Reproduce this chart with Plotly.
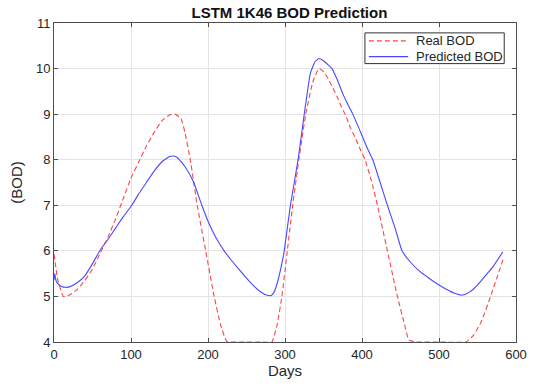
import plotly.graph_objects as go

# Real BOD (days, value)
real_days = [0, 5, 12, 15, 20, 30, 40, 50, 60, 70, 80, 90, 100, 110, 120, 130, 140, 150, 157,
             165, 170, 177, 186, 197, 208, 216, 224, 232, 250, 270, 283, 290, 296, 303, 310,
             318, 327, 336, 344, 350, 356, 362, 368, 373, 378, 385, 392, 398, 404, 412, 420,
             433, 446, 455, 461, 470, 500, 535, 545, 555, 567, 575, 584]
real_bod = [5.93, 5.35, 5.0, 5.0, 5.03, 5.15, 5.35, 5.6, 5.95, 6.3, 6.7, 7.15, 7.6, 7.95, 8.3, 8.6, 8.85, 8.98, 9.0,
            8.9, 8.6, 8.0, 7.0, 6.0, 5.0, 4.4, 4.02, 4.0, 4.0, 4.0, 4.0, 4.4, 5.0, 6.0, 7.0,
            8.0, 9.0, 9.7, 10.0, 9.93, 9.78, 9.58, 9.37, 9.17, 9.0, 8.7, 8.45, 8.22, 8.0, 7.55, 7.0,
            6.0, 5.0, 4.4, 4.04, 4.0, 4.0, 4.0, 4.15, 4.45, 5.0, 5.4, 5.85]

# Predicted BOD (days, value)
pred_days = [0, 1, 2.5, 5, 10, 15, 20, 30, 40, 50, 60, 70, 80, 90, 101, 110, 120, 130, 140, 150,
             155, 160, 170, 181, 192, 200, 210, 221, 230, 240, 250, 260, 270, 276, 282, 286, 290,
             295, 299, 307, 317, 325, 333, 339, 344, 350, 356, 361, 368, 375, 382, 388, 394, 400,
             407, 414, 433, 443, 452, 463, 475, 487, 499, 510, 520, 531, 540, 550, 560,
             570, 583]
pred_bod = [5.36, 5.5, 5.35, 5.28, 5.22, 5.2, 5.21, 5.3, 5.45, 5.72, 6.02, 6.25, 6.5, 6.75, 7.0, 7.25, 7.5, 7.75, 7.95, 8.07,
            8.08, 8.05, 7.85, 7.52, 7.0, 6.65, 6.3, 6.0, 5.8, 5.6, 5.4, 5.22, 5.08, 5.03, 5.02, 5.1, 5.3,
            5.65, 6.0, 7.0, 8.0, 9.0, 9.9, 10.15, 10.22, 10.17, 10.08, 10.0, 9.75, 9.45, 9.2, 9.0, 8.77, 8.53,
            8.25, 8.0, 7.0, 6.5, 6.0, 5.75, 5.55, 5.4, 5.26, 5.15, 5.07, 5.03, 5.1, 5.25, 5.45,
            5.65, 5.98]

x_ticks = [0, 100, 200, 300, 400, 500, 600]
y_ticks = [4, 5, 6, 7, 8, 9, 10, 11]
series_names = ["Real BOD", "Predicted BOD"]
series_colors = ["#ff4545", "#4848ff"]
series_dash = ["5px,3px", "solid"]

FONT = "Liberation Sans, Arial, sans-serif"
AX = "#4d4d4d"

fig = go.Figure()
fig.add_trace(go.Scatter(x=real_days, y=real_bod, mode="lines", name=series_names[0],
                         line=dict(color=series_colors[0], width=1.1, dash=series_dash[0],
                                   shape="spline", smoothing=0.4)))
fig.add_trace(go.Scatter(x=pred_days, y=pred_bod, mode="lines", name=series_names[1],
                         line=dict(color=series_colors[1], width=1.1, dash=series_dash[1],
                                   shape="spline", smoothing=0.4)))

axis_common = dict(showline=True, linecolor=AX, linewidth=1, mirror="ticks", ticks="inside",
                   ticklen=4, tickcolor=AX, showgrid=True, gridcolor="#e4e4e4", gridwidth=1,
                   zeroline=False, tickfont=dict(family=FONT, size=13, color="#262626"))

# Compact legend box (MATLAB-style), drawn in paper coordinates
leg_x0, leg_x1, leg_y0, leg_y1 = 0.673, 0.9745, 0.8727, 0.969
sample_x0, sample_x1, text_x = 0.6815, 0.7665, 0.779
row_y = [0.944, 0.8944]
shapes = [dict(type="rect", xref="paper", yref="paper", x0=leg_x0, x1=leg_x1, y0=leg_y0, y1=leg_y1,
               line=dict(color="#333333", width=1), fillcolor="white", layer="above")]
annotations = []
for name, col, dash, yy in zip(series_names, series_colors, series_dash, row_y):
    shapes.append(dict(type="line", xref="paper", yref="paper", x0=sample_x0, x1=sample_x1, y0=yy, y1=yy,
                       line=dict(color=col, width=1.2, dash=dash), layer="above"))
    annotations.append(dict(text=name, xref="paper", yref="paper", x=text_x, y=yy, xanchor="left",
                            yanchor="middle", showarrow=False,
                            font=dict(family=FONT, size=13, color="#262626")))

fig.update_layout(
    width=539, height=387,
    margin=dict(l=54, r=14, t=23, b=42),
    paper_bgcolor="white", plot_bgcolor="white",
    title=dict(text="<b>LSTM 1K46 BOD Prediction</b>", x=0.537, xanchor="center",
               y=1 - 12.5 / 387, yanchor="middle", yref="container",
               font=dict(family=FONT, size=15, color="#111111")),
    xaxis=dict(range=[0, 600], tickvals=x_ticks,
               title=dict(text="Days", font=dict(family=FONT, size=15, color="#262626"), standoff=3),
               **axis_common),
    yaxis=dict(range=[4, 11], tickvals=y_ticks,
               title=dict(text="(BOD)", font=dict(family=FONT, size=15, color="#262626"), standoff=9),
               **axis_common),
    shapes=shapes,
    annotations=annotations,
    showlegend=False,
)

fig.write_html("out.html")
